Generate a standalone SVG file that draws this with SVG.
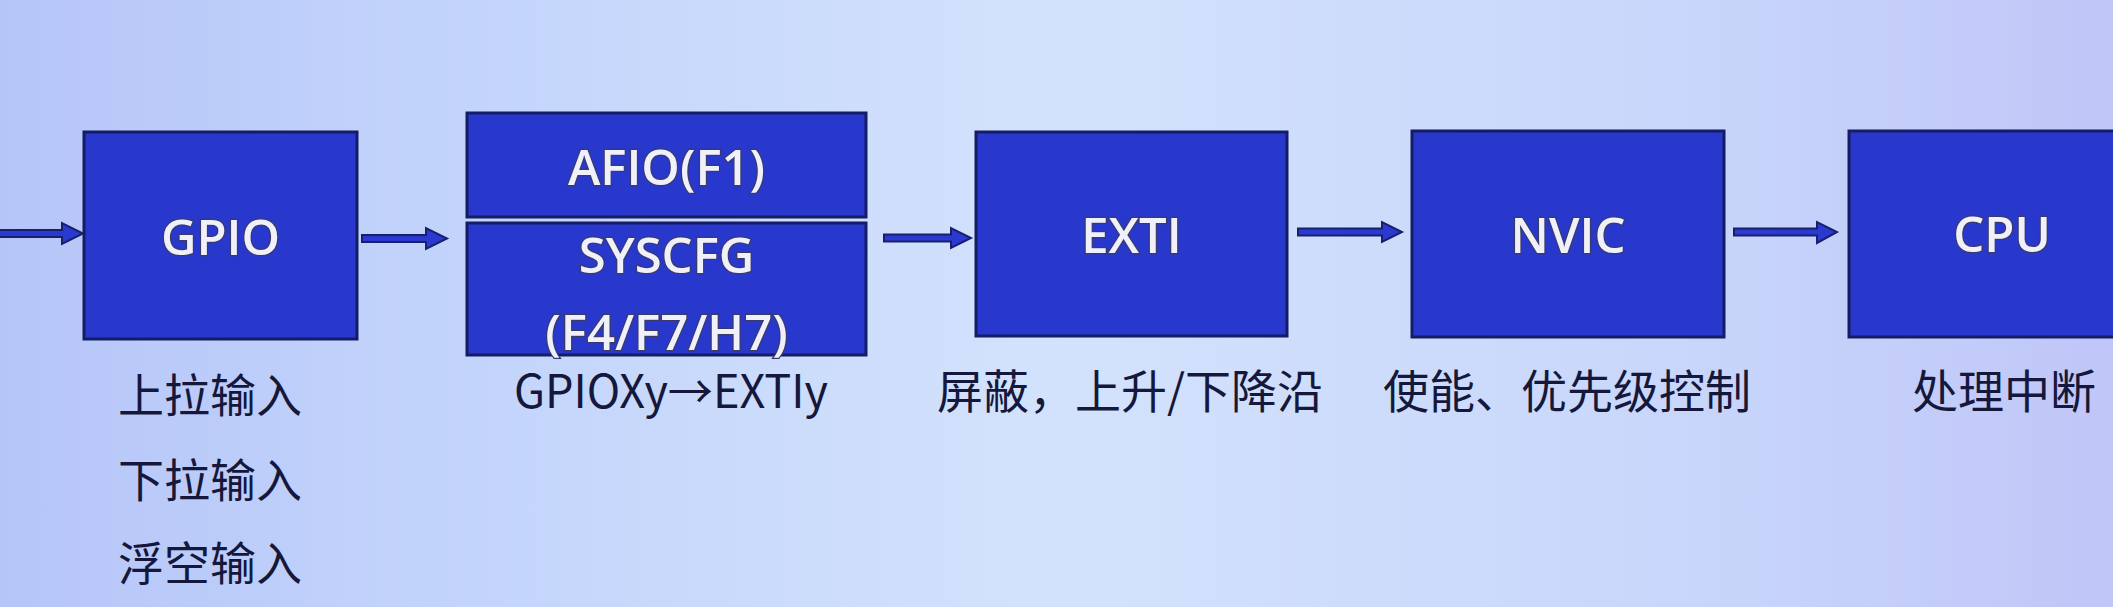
<svg xmlns="http://www.w3.org/2000/svg" width="2113" height="607" viewBox="0 0 2113 607">
  <defs>
    <linearGradient id="bg" x1="0" y1="0" x2="1" y2="0">
      <stop offset="0" stop-color="#b6c5f8"/>
      <stop offset="0.2" stop-color="#c2d3fb"/>
      <stop offset="0.5" stop-color="#d3e2fc"/>
      <stop offset="0.8" stop-color="#c8d6fb"/>
      <stop offset="1" stop-color="#c0c6f8"/>
    </linearGradient>
    <style>
      .box { fill: #2838cd; stroke: #141c66; stroke-width: 3; }
      .btxt { font-family: "Open Sans", "Noto Sans", sans-serif; font-size: 49px; font-weight: 600; fill: #f0f0fa; stroke: #3a3a6a; stroke-width: 2.5; paint-order: stroke; text-anchor: middle; }
      .lbl { font-family: "Noto Sans CJK SC", "Noto Sans", sans-serif; font-size: 46px; fill: #15183a; }
      .arr { fill: #2a3ad0; stroke: #18206e; stroke-width: 2; stroke-linejoin: miter; }
    </style>
  </defs>
  <rect x="0" y="0" width="2113" height="607" fill="url(#bg)"/>

  <g id="connectors">
    <path class="arr" d="M -5 230 H 62 V 223 L 83 233.5 L 62 244 V 237 H -5 Z"/>
    <path class="arr" d="M 362 235 H 426 V 228 L 447 238.5 L 426 249 V 242 H 362 Z"/>
    <path class="arr" d="M 884 234.5 H 951 V 228 L 971 238 L 951 248 V 241.5 H 884 Z"/>
    <path class="arr" d="M 1298 228.5 H 1382 V 222 L 1402 232 L 1382 242 V 235.5 H 1298 Z"/>
    <path class="arr" d="M 1734 228.5 H 1817 V 222 L 1837 232 L 1817 243 V 235.5 H 1734 Z"/>
  </g>

  <g id="node-gpio">
    <rect class="box" x="84" y="132" width="273" height="207"/>
    <text class="btxt" x="220.5" y="255">GPIO</text>
  </g>
  <g id="node-afio">
    <rect class="box" x="467" y="113" width="399" height="104"/>
    <text class="btxt" x="666.5" y="185">AFIO(F1)</text>
  </g>
  <g id="node-syscfg">
    <rect class="box" x="467" y="223" width="399" height="132"/>
    <text class="btxt" x="666.5" y="273">SYSCFG</text>
    <text class="btxt" x="666.5" y="350">(F4/F7/H7)</text>
  </g>
  <g id="node-exti">
    <rect class="box" x="976" y="132" width="311" height="204"/>
    <text class="btxt" x="1131.5" y="253">EXTI</text>
  </g>
  <g id="node-nvic">
    <rect class="box" x="1412" y="131" width="312" height="206"/>
    <text class="btxt" x="1568" y="253">NVIC</text>
  </g>
  <g id="node-cpu">
    <rect class="box" x="1849" y="131" width="310" height="206"/>
    <text class="btxt" x="2002" y="252">CPU</text>
  </g>

  <g id="labels">
    <text class="lbl" x="118" y="412">上拉输入</text>
    <text class="lbl" x="118" y="497">下拉输入</text>
    <text class="lbl" x="118" y="580">浮空输入</text>
    <text class="lbl" x="514" y="408" textLength="314" lengthAdjust="spacingAndGlyphs">GPIOXy→EXTIy</text>
    <text class="lbl" x="937" y="408">屏蔽，上升/下降沿</text>
    <text class="lbl" x="1383" y="408">使能、优先级控制</text>
    <text class="lbl" x="1912" y="408">处理中断</text>
  </g>
</svg>
